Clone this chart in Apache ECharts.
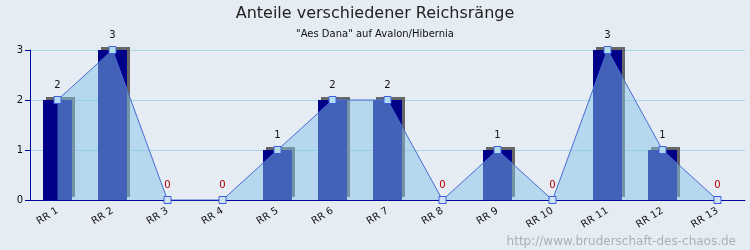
<!DOCTYPE html>
<html>
<head>
<meta charset="utf-8">
<script src="https://cdn.jsdelivr.net/npm/echarts@6/dist/echarts.min.js"></script>
<style>
  html, body { margin: 0; padding: 0; background: #e6ecf4; }
  #chart { width: 750px; height: 250px; }
</style>
</head>
<body>
<div id="chart"></div>
<script>
// Daten
const ranks = ['RR 1', 'RR 2', 'RR 3', 'RR 4', 'RR 5', 'RR 6', 'RR 7', 'RR 8', 'RR 9', 'RR 10', 'RR 11', 'RR 12', 'RR 13'];
const counts = [2, 3, 0, 0, 1, 2, 2, 0, 1, 0, 3, 1, 0];
const yTicks = [0, 1, 2, 3];

const chart = echarts.init(document.getElementById('chart'));

// Punkte mit 0 bekommen rote Beschriftung
const lineData = counts.map(v => ({
    value: v,
    label: { color: v === 0 ? '#b00000' : '#111' },
    itemStyle: { color: v === 0 ? '#cfe2f0' : '#b4dcf0' }
}));

const option = {
    backgroundColor: '#e6ecf4',
    animation: false,
    title: [
        { text: 'Anteile verschiedener Reichsränge', left: 'center', top: 1,
          textStyle: { fontFamily: 'DejaVu Sans', fontSize: 16, fontWeight: 'normal', color: '#222' } },
        { text: '"Aes Dana" auf Avalon/Hibernia', left: 'center', top: 24,
          textStyle: { fontFamily: 'DejaVu Sans', fontSize: 10, fontWeight: 'normal', color: '#111' } },
        { text: 'http://www.bruderschaft-des-chaos.de', right: 9, top: 231,
          textStyle: { fontFamily: 'DejaVu Sans', fontSize: 12, fontWeight: 'normal', color: '#aab0b8' } }
    ],
    grid: { left: 30, right: 5, top: 50, bottom: 50 },
    xAxis: {
        type: 'category',
        data: ranks,
        boundaryGap: true,
        axisLine: { lineStyle: { color: '#000099', width: 1 } },
        axisTick: { inside: true, length: 5, lineStyle: { color: '#000099' } },
        axisLabel: { rotate: 32, fontFamily: 'DejaVu Sans', fontSize: 10, color: '#111', margin: 10 },
        splitLine: { show: false }
    },
    yAxis: {
        type: 'value',
        min: yTicks[0],
        max: yTicks[yTicks.length - 1],
        interval: 1,
        axisLine: { show: true, lineStyle: { color: '#000099', width: 1 } },
        axisTick: { show: true, length: 5, lineStyle: { color: '#000099' } },
        axisLabel: { fontFamily: 'DejaVu Sans', fontSize: 10, color: '#111', margin: 7 },
        splitLine: { lineStyle: { color: '#a8d8e8', width: 1 } }
    },
    series: [
        {
            type: 'bar',
            data: counts,
            barWidth: 29,
            itemStyle: {
                color: '#000088',
                shadowColor: '#666666',
                shadowBlur: 0,
                shadowOffsetX: 3,
                shadowOffsetY: -3
            },
            z: 2
        },
        {
            type: 'line',
            data: lineData,
            symbol: 'rect',
            symbolSize: 7,
            lineStyle: { color: '#4a6ad0', width: 1 },
            itemStyle: { borderColor: '#3f5fe0', borderWidth: 1 },
            areaStyle: { color: '#84c4e8', opacity: 0.5 },
            label: { show: true, position: 'top', distance: 6, fontFamily: 'DejaVu Sans', fontSize: 10 },
            z: 3
        }
    ]
};

chart.setOption(option);
</script>
</body>
</html>
